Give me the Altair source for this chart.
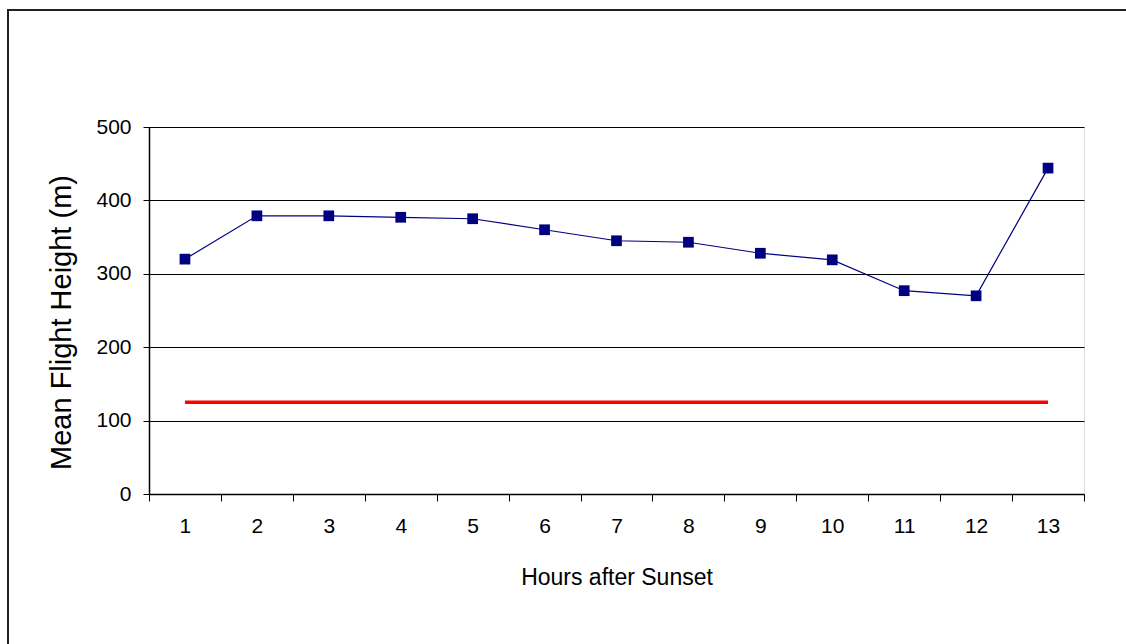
import altair as alt
import pandas as pd

# Data
hours = [1, 2, 3, 4, 5, 6, 7, 8, 9, 10, 11, 12, 13]
mean_height = [320, 379, 379, 377, 375, 360, 345, 343, 328, 319, 277, 270, 444]
reference_height = [125, 125, 125, 125, 125, 125, 125, 125, 125, 125, 125, 125, 125]
y_ticks = [0, 100, 200, 300, 400, 500]

df = pd.DataFrame({"hour": hours, "height": mean_height, "ref": reference_height})

FONT = "Liberation Sans"

x_enc = alt.X(
    "hour:O",
    scale=alt.Scale(type="band", paddingInner=0, paddingOuter=0),
    bandPosition=0.5,
    axis=alt.Axis(
        title="Hours after Sunset",
        labelAngle=0,
        tickBand="extent",
        tickSize=7,
        tickColor="black",
        domainColor="black",
        domainWidth=1.5,
        labelFontSize=21,
        labelColor="black",
        labelPadding=14,
        titleFontSize=23,
        titleFontWeight="normal",
        titleColor="black",
        titlePadding=30,
        grid=False,
    ),
)

y_enc = alt.Y(
    "height:Q",
    scale=alt.Scale(domain=[0, 500], nice=False),
    axis=alt.Axis(
        title="Mean Flight Height (m)",
        values=y_ticks,
        grid=True,
        gridColor="black",
        gridWidth=1,
        tickSize=6,
        tickColor="black",
        domainColor="black",
        domainWidth=1.5,
        labelFontSize=21,
        labelColor="black",
        labelPadding=12,
        titleFontSize=29,
        titleFontWeight="normal",
        titleColor="black",
        titlePadding=19,
        titleY=195,
    ),
)

frame = alt.Chart(df).mark_rect(fill=None, stroke="#222", strokeWidth=1.5).encode(
    x=alt.value(-141), x2=alt.value(1000), y=alt.value(-117), y2=alt.value(540)
)

ref_line = alt.Chart(df).mark_line(color="#FF0000", strokeWidth=3.5).encode(
    x=x_enc, y=alt.Y("ref:Q")
)

series = alt.Chart(df).mark_line(
    color="#000080", strokeWidth=1.2,
    point=alt.OverlayMarkDef(shape="square", size=115, filled=True, color="#000080", opacity=1),
).encode(x=x_enc, y=y_enc)

chart = alt.layer(frame, series, ref_line).properties(
    width=935, height=367,
    autosize=alt.AutoSizeParams(type="none"),
    padding={"left": 149, "top": 127, "right": 42, "bottom": 150},
    background="white",
).configure_view(
    stroke="black", strokeWidth=1.5
).configure(font=FONT)

chart.save("out.html", embed_options={"renderer": "svg", "actions": False})
